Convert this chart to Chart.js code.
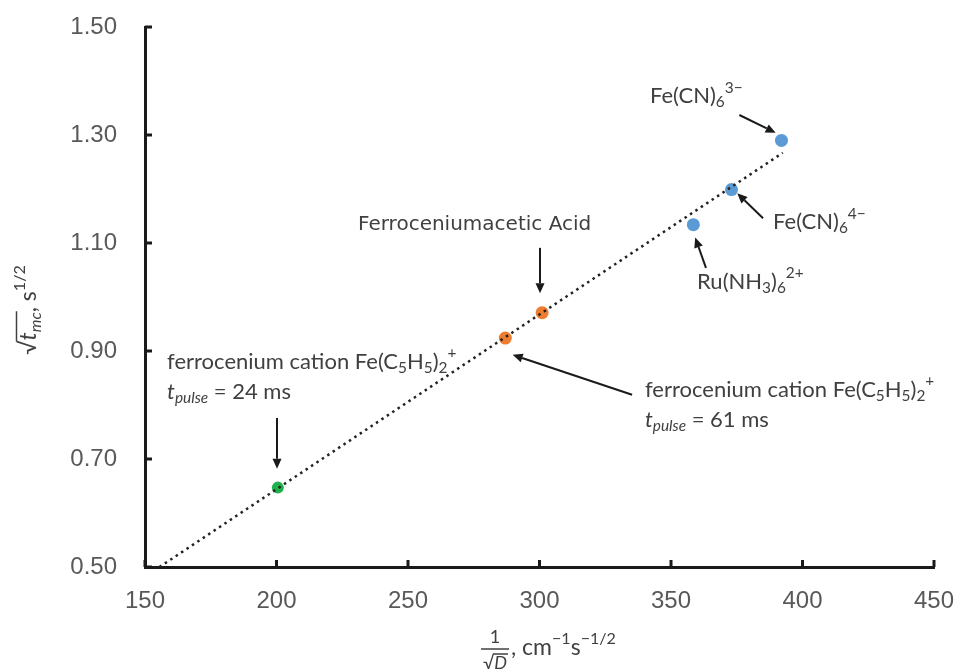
<!DOCTYPE html>
<html lang="en">
<head>
    <meta charset="UTF-8">
    <title>Pulse time vs 1/sqrt(D)</title>
    <script src="https://cdn.jsdelivr.net/npm/chart.js"></script>
    <style>
        html, body { margin: 0; padding: 0; background: #fff; }
        #wrap { width: 961px; height: 672px; }
    </style>
</head>
<body>
    <div id="wrap"><canvas id="chart"></canvas></div>

    <script>
        // data
        const blueX = [392, 373, 358.5];
        const blueY = [1.29, 1.199, 1.134];
        const orangeX = [301, 287];
        const orangeY = [0.971, 0.924];
        const greenX = [200.5];
        const greenY = [0.647];
        const trendX = [155.5, 392.5];
        const trendY = [0.5, 1.267];

        const xMin = 150, xMax = 450, xStep = 50;
        const yMin = 0.5, yMax = 1.5, yStep = 0.2;

        const TEXT = '#404040';
        const FONT = 'Lato, "Open Sans", sans-serif';
        const NOTE_SIZE = 22;

        // annotations: text anchor (left, middle) and arrow in data units
        const notes = [
            { x: 342, y: 1.372, lines: [[['Fe(CN)'], ['6', 'sub'], ['3\u2212', 'sup']]],
              arrow: [376, 1.337, 389.8, 1.304] },
            { x: 388.8, y: 1.139, lines: [[['Fe(CN)'], ['6', 'sub'], ['4\u2212', 'sup']]],
              arrow: [385, 1.146, 375.2, 1.192] },
            { x: 359.9, y: 1.028, lines: [[['Ru(NH'], ['3', 'sub'], [')'], ['6', 'sub'], ['2+', 'sup']]],
              arrow: [363.3, 1.054, 359.2, 1.11] },
            { x: 231, y: 1.133, font: '20px "DejaVu Sans", sans-serif', lines: [[['Ferroceniumacetic Acid']]],
              arrow: [300.2, 1.091, 300.2, 1.007] },
            { x: 158.4, y: 0.88, lines: [
                [['ferrocenium cation Fe(C'], ['5', 'sub'], ['H'], ['5', 'sub'], [')'], ['2', 'sub'], ['+', 'sup']],
                [['t', 'it'], ['pulse', 'subit'], [' = 24 ms']]],
              arrow: [200.2, 0.776, 200.2, 0.682] },
            { x: 340.1, y: 0.828, lines: [
                [['ferrocenium cation Fe(C'], ['5', 'sub'], ['H'], ['5', 'sub'], [')'], ['2', 'sub'], ['+', 'sup']],
                [['t', 'it'], ['pulse', 'subit'], [' = 61 ms']]],
              arrow: [335.2, 0.819, 289.8, 0.893] }
        ];

        function segFont(kind, size) {
            const small = kind === 'sub' || kind === 'sup' || kind === 'subit';
            const it = kind === 'it' || kind === 'subit';
            return (it ? 'italic ' : '') + (small ? size * 0.7 : size) + 'px ' + FONT;
        }

        function segShift(kind, size) {
            if (kind === 'sub' || kind === 'subit') return size * 0.28;
            if (kind === 'sup') return -size * 0.38;
            return 0;
        }

        function richWidth(ctx, segs, size) {
            let w = 0;
            segs.forEach(s => { ctx.font = segFont(s[1], size); w += ctx.measureText(s[0]).width; });
            return w;
        }

        function drawRich(ctx, x, y, segs, size) {
            ctx.textAlign = 'left';
            ctx.textBaseline = 'middle';
            segs.forEach(s => {
                ctx.font = segFont(s[1], size);
                ctx.fillText(s[0], x, y + segShift(s[1], size));
                x += ctx.measureText(s[0]).width;
            });
            return x;
        }

        function arrow(ctx, x1, y1, x2, y2) {
            const a = Math.atan2(y2 - y1, x2 - x1);
            const hl = 10, hw = 4.5;
            const bx = x2 - hl * Math.cos(a), by = y2 - hl * Math.sin(a);
            ctx.beginPath();
            ctx.moveTo(x1, y1);
            ctx.lineTo(bx, by);
            ctx.lineWidth = 2;
            ctx.strokeStyle = '#1a1a1a';
            ctx.stroke();
            ctx.beginPath();
            ctx.moveTo(x2, y2);
            ctx.lineTo(bx + hw * Math.sin(a), by - hw * Math.cos(a));
            ctx.lineTo(bx - hw * Math.sin(a), by + hw * Math.cos(a));
            ctx.closePath();
            ctx.fillStyle = '#1a1a1a';
            ctx.fill();
        }

        const decor = {
            id: 'decor',
            afterDatasetsDraw(chart) {
                const ctx = chart.ctx;
                const xs = chart.scales.x, ys = chart.scales.y;
                const area = chart.chartArea;
                ctx.save();

                // inward tick marks
                ctx.strokeStyle = '#1a1a1a';
                ctx.lineWidth = 3;
                ys.ticks.forEach(t => {
                    const py = ys.getPixelForValue(t.value);
                    ctx.beginPath(); ctx.moveTo(area.left, py); ctx.lineTo(area.left + 7, py); ctx.stroke();
                });
                xs.ticks.forEach(t => {
                    const px = xs.getPixelForValue(t.value);
                    ctx.beginPath(); ctx.moveTo(px, area.bottom); ctx.lineTo(px, area.bottom - 7); ctx.stroke();
                });

                // annotations
                notes.forEach(n => {
                    const a = n.arrow;
                    arrow(ctx, xs.getPixelForValue(a[0]), ys.getPixelForValue(a[1]),
                        xs.getPixelForValue(a[2]), ys.getPixelForValue(a[3]));
                    ctx.fillStyle = TEXT;
                    const lx = xs.getPixelForValue(n.x);
                    let ly = ys.getPixelForValue(n.y);
                    if (n.font) {
                        ctx.font = n.font;
                        ctx.textAlign = 'left';
                        ctx.textBaseline = 'middle';
                        ctx.fillText(n.lines[0][0][0], lx, ly);
                        return;
                    }
                    n.lines.forEach(line => {
                        drawRich(ctx, lx, ly, line, NOTE_SIZE);
                        ly += 30;
                    });
                });

                // y axis title: sqrt(t_mc), s^1/2
                ctx.save();
                ctx.translate(29, 310);
                ctx.rotate(-Math.PI / 2);
                ctx.fillStyle = TEXT;
                const ySegs = [['\u221A'], ['t', 'it'], ['mc', 'subit'], [', s'], ['1/2', 'sup']];
                const w = richWidth(ctx, ySegs, 23);
                let cx = -w / 2;
                ctx.font = segFont('', 23);
                const rw = ctx.measureText('\u221A').width;
                ctx.font = segFont('it', 23);
                const tw = ctx.measureText('t').width;
                ctx.font = segFont('subit', 23);
                const mw = ctx.measureText('mc').width;
                drawRich(ctx, cx, 0, ySegs, 23);
                ctx.beginPath();
                ctx.moveTo(cx + rw - 1, -12.5);
                ctx.lineTo(cx + rw + tw + mw + 1, -12.5);
                ctx.lineWidth = 1.5;
                ctx.strokeStyle = TEXT;
                ctx.stroke();
                ctx.restore();

                // x axis title: 1/sqrt(D), cm^-1 s^-1/2
                ctx.fillStyle = TEXT;
                const fx = 495;
                ctx.textAlign = 'center';
                ctx.textBaseline = 'middle';
                ctx.font = '18px ' + FONT;
                ctx.fillText('1', fx, 637);
                ctx.beginPath();
                ctx.moveTo(fx - 14, 649); ctx.lineTo(fx + 14, 649);
                ctx.lineWidth = 1.5; ctx.strokeStyle = TEXT; ctx.stroke();
                ctx.font = '18px ' + FONT;
                const sq = ctx.measureText('\u221A').width;
                ctx.font = 'italic 18px ' + FONT;
                const dw = ctx.measureText('D').width;
                const sx = fx - (sq + dw) / 2;
                drawRich(ctx, sx, 663, [['\u221A'], ['D', 'it']], 18);
                ctx.beginPath();
                ctx.moveTo(sx + sq - 1, 654); ctx.lineTo(sx + sq + dw + 1, 654); ctx.stroke();
                drawRich(ctx, 511, 648, [[', cm'], ['\u22121', 'sup'], ['s'], ['\u22121/2', 'sup']], 23);

                ctx.restore();
            }
        };

        const pts = (xs, ys) => xs.map((x, i) => ({ x: x, y: ys[i] }));

        new Chart(document.getElementById('chart'), {
            type: 'scatter',
            data: {
                datasets: [
                    {
                        data: pts(trendX, trendY),
                        showLine: true,
                        borderColor: '#222',
                        borderWidth: 2.5,
                        borderDash: [2.5, 4],
                        pointRadius: 0,
                        fill: false
                    },
                    { data: pts(blueX, blueY), backgroundColor: '#5b9bd5', borderWidth: 0, pointRadius: 6.5 },
                    { data: pts(orangeX, orangeY), backgroundColor: '#ed7d31', borderWidth: 0, pointRadius: 6.5 },
                    { data: pts(greenX, greenY), backgroundColor: '#21b04b', borderWidth: 0, pointRadius: 6 }
                ]
            },
            options: {
                responsive: true,
                maintainAspectRatio: false,
                animation: false,
                layout: { padding: { top: 27, right: 27, left: 0, bottom: 0 } },
                plugins: { legend: { display: false }, tooltip: { enabled: false } },
                scales: {
                    x: {
                        type: 'linear',
                        min: xMin, max: xMax,
                        grid: { display: false },
                        border: { display: true, color: '#1a1a1a', width: 3 },
                        ticks: { stepSize: xStep, padding: 12, color: '#595959', font: { size: 24, family: 'Liberation Sans, Arial, sans-serif' } },
                        afterFit(scale) {
                            scale.height = 105;
                            scale.paddingLeft = 0;
                            scale.paddingRight = 0;
                        }
                    },
                    y: {
                        type: 'linear',
                        min: yMin, max: yMax,
                        grid: { display: false },
                        border: { display: true, color: '#1a1a1a', width: 3 },
                        ticks: {
                            stepSize: yStep, padding: 20, color: '#595959',
                            font: { size: 24, family: 'Liberation Sans, Arial, sans-serif' },
                            callback: v => v.toFixed(2)
                        },
                        afterFit(scale) {
                            scale.width = 145;
                            scale.paddingTop = 0;
                            scale.paddingBottom = 0;
                        }
                    }
                }
            },
            plugins: [decor]
        });
    </script>
</body>
</html>
